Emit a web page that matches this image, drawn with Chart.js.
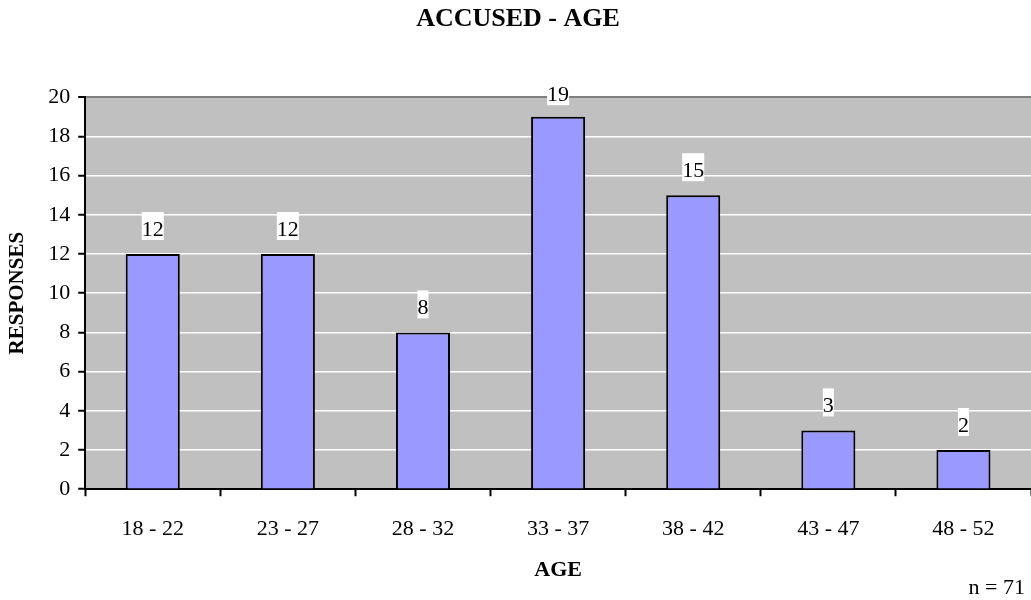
<!DOCTYPE html>
<html>
<head>
<meta charset="utf-8">
<script src="https://cdn.jsdelivr.net/npm/chart.js@4"></script>
<style>
  body { margin: 0; background: #fff; }
  #wrap { width: 1031px; height: 600px; }
</style>
</head>
<body>
<div id="wrap"><canvas id="ageChart" width="1031" height="600"></canvas></div>
<script>
// ===== data =====
const ageGroups = ['18 - 22', '23 - 27', '28 - 32', '33 - 37', '38 - 42', '43 - 47', '48 - 52'];
const responses = [12, 12, 8, 19, 15, 3, 2];
const yTicks = [0, 2, 4, 6, 8, 10, 12, 14, 16, 18, 20];
const sampleNote = 'n = 71';

const serif = '"Liberation Serif", "Times New Roman", serif';

// gray plot background
const plotBg = {
  id: 'plotBg',
  beforeDraw(chart) {
    const a = chart.chartArea, ctx = chart.ctx;
    ctx.save();
    ctx.fillStyle = '#c0c0c0';
    ctx.fillRect(a.left, a.top, a.right - a.left, a.bottom - a.top);
    ctx.restore();
  }
};

// value labels on white boxes above bars + the n note
const barLabels = {
  id: 'barLabels',
  afterDatasetsDraw(chart) {
    const ctx = chart.ctx;
    const meta = chart.getDatasetMeta(0);
    ctx.save();
    ctx.font = '22px ' + serif;
    ctx.textAlign = 'center';
    ctx.textBaseline = 'middle';
    meta.data.forEach((bar, i) => {
      const txt = String(responses[i]);
      const w = ctx.measureText(txt).width;
      const cy = Math.max(bar.y - 28, chart.chartArea.top - 6);
      ctx.fillStyle = '#fff';
      ctx.fillRect(bar.x - w / 2, cy - 14, w, 28);
      ctx.fillStyle = '#000';
      ctx.fillText(txt, bar.x, cy + 4);
    });
    ctx.restore();
  },
  afterDraw(chart) {
    const ctx = chart.ctx;
    ctx.save();
    ctx.font = '22px ' + serif;
    ctx.fillStyle = '#000';
    ctx.textAlign = 'right';
    ctx.textBaseline = 'middle';
    ctx.fillText(sampleNote, chart.width - 6, 588);
    ctx.restore();
  }
};

new Chart(document.getElementById('ageChart'), {
  type: 'bar',
  data: {
    labels: ageGroups,
    datasets: [{
      data: responses,
      backgroundColor: '#9999ff',
      borderColor: '#000',
      borderWidth: 2,
      borderSkipped: 'bottom',
      barPercentage: 0.4,
      categoryPercentage: 1.0
    }]
  },
  options: {
    responsive: false,
    animation: false,
    layout: { padding: { left: 5, right: 0, top: 0, bottom: 16 } },
    plugins: {
      legend: { display: false },
      tooltip: { enabled: false },
      title: {
        display: true,
        text: 'ACCUSED - AGE',
        color: '#000',
        font: { family: serif, size: 26, weight: 'bold' },
        padding: { top: 4, bottom: 62 }
      }
    },
    scales: {
      x: {
        offset: true,
        grid: {
          offset: true,
          drawOnChartArea: false,
          drawTicks: true,
          tickLength: 7,
          tickColor: '#000',
          tickWidth: 2
        },
        border: { display: true, color: '#000', width: 2 },
        ticks: {
          color: '#000',
          font: { family: serif, size: 22 },
          padding: 20,
          maxRotation: 0
        },
        title: {
          display: true,
          text: 'AGE',
          color: '#000',
          font: { family: serif, size: 22, weight: 'bold' },
          padding: { top: -5, bottom: 0 }
        }
      },
      y: {
        min: 0,
        max: 20,
        afterBuildTicks(scale) { scale.ticks = yTicks.map(v => ({ value: v })); },
        grid: {
          color: ctx => (ctx.tick && ctx.tick.value === 20 ? '#808080' : '#ffffff'),
          lineWidth: ctx => (ctx.tick && ctx.tick.value === 20 ? 2 : 1.5),
          tickColor: '#000',
          tickLength: 7,
          tickWidth: 2
        },
        border: { display: true, color: '#000', width: 2 },
        ticks: {
          color: '#000',
          font: { family: serif, size: 22 },
          padding: 8
        },
        title: {
          display: true,
          text: 'RESPONSES',
          color: '#000',
          font: { family: serif, size: 21, weight: 'bold' },
          padding: { top: 0, bottom: 10 }
        }
      }
    }
  },
  plugins: [plotBg, barLabels]
});
</script>
</body>
</html>
